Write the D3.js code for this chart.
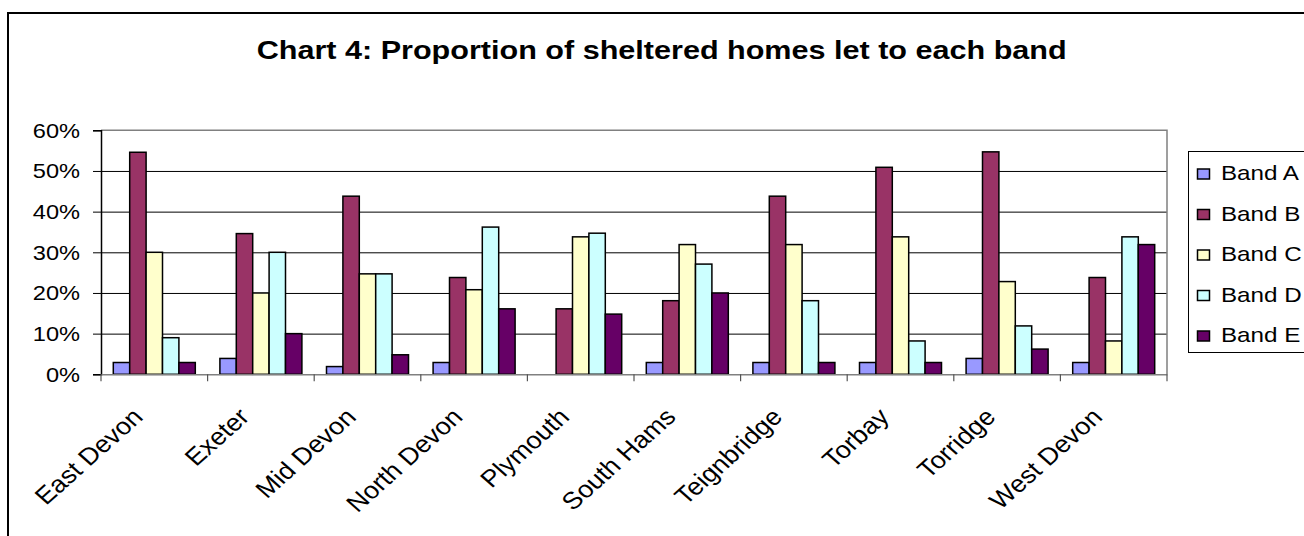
<!DOCTYPE html>
<html>
<head>
<meta charset="utf-8">
<script src="https://cdn.jsdelivr.net/npm/d3@7"></script>
<style>
  html, body { margin: 0; padding: 0; background: #fff; }
  svg { display: block; font-family: "Liberation Sans", Arial, sans-serif; }
</style>
</head>
<body>
<svg id="chart" width="1304" height="536"></svg>
<script>
const title = "Chart 4: Proportion of sheltered homes let to each band";
const categories = ["East Devon","Exeter","Mid Devon","North Devon","Plymouth","South Hams","Teignbridge","Torbay","Torridge","West Devon"];
const bands = ["Band A","Band B","Band C","Band D","Band E"];
const bandColors = ["#9999FF","#993366","#FFFFCC","#CCFFFF","#660066"];
const bandA = [2.9, 3.9, 1.9, 2.9, 0, 2.9, 2.9, 2.9, 3.9, 2.9];
const bandB = [54.6, 34.6, 43.8, 23.8, 16.1, 18.1, 43.8, 50.9, 54.7, 23.8];
const bandC = [30.0, 20.0, 24.7, 20.8, 33.8, 31.9, 31.9, 33.8, 22.8, 8.2];
const bandD = [9.0, 30.0, 24.7, 36.2, 34.7, 27.1, 18.1, 8.2, 11.9, 33.8];
const bandE = [2.9, 10.0, 4.8, 16.1, 14.8, 20.0, 2.9, 2.9, 6.2, 31.9];
const yTicks = [0, 10, 20, 30, 40, 50, 60];

const series = [bandA, bandB, bandC, bandD, bandE];
const svg = d3.select("#chart");
const SX = 1.18;   // horizontal stretch of the text in the reference
const SXL = 1.12;  // stretch for the rotated category labels

const pLeft = 101, pRight = 1167, pTop = 130.3, pBottom = 374.3;

// outer border
svg.append("rect").attr("x", 8).attr("y", 13).attr("width", 1320).attr("height", 560)
  .attr("fill", "#fff").attr("stroke", "#000").attr("stroke-width", 2);

// title
svg.append("text").attr("x", 661.7).attr("y", 58.5).attr("text-anchor", "middle")
  .attr("font-size", 26).attr("font-weight", "bold")
  .attr("textLength", 810).attr("lengthAdjust", "spacingAndGlyphs")
  .text(title);

const x0 = d3.scaleBand().domain(categories).range([pLeft, pRight]).padding(0);
const bw = x0.bandwidth();
const x1 = d3.scaleBand().domain(bands).range([bw * 0.75 / 6.5, bw - bw * 0.75 / 6.5]).padding(0);
const y = d3.scaleLinear().domain([0, 60]).range([pBottom, pTop]);
const color = d3.scaleOrdinal().domain(bands).range(bandColors);

// gridlines
const grid = svg.append("g").attr("transform", `translate(${pLeft},0)`)
  .call(d3.axisLeft(y).tickValues(yTicks.filter(d => d > 0 && d < 60)).tickSize(-(pRight - pLeft)).tickFormat(""));
grid.select(".domain").remove();
grid.selectAll("line").attr("stroke", "#000").attr("stroke-width", 1);

// plot area border top & right (gray)
svg.append("path")
  .attr("d", `M${pLeft},${y(60)}H${pRight}V${pBottom}`)
  .attr("fill", "none").attr("stroke", "#808080").attr("stroke-width", 1.5);

// bars
const data = [];
categories.forEach((c, i) => bands.forEach((b, j) => data.push({c, b, v: series[j][i]})));
svg.append("g").selectAll("rect").data(data.filter(d => d.v > 0)).join("rect")
  .attr("x", d => x0(d.c) + x1(d.b))
  .attr("width", x1.bandwidth())
  .attr("y", d => y(d.v))
  .attr("height", d => y(0) - y(d.v))
  .attr("fill", d => color(d.b))
  .attr("stroke", "#000").attr("stroke-width", 1.5);

// y axis
const ya = svg.append("g").attr("transform", `translate(${pLeft},0)`)
  .call(d3.axisLeft(y).tickValues(yTicks).tickSize(8).tickFormat(d => d + "%"));
ya.select(".domain").attr("stroke", "#000").attr("stroke-width", 1.5);
ya.selectAll("line").attr("stroke", "#000");
ya.selectAll("text").attr("x", 0).attr("dy", "0.35em")
  .attr("transform", `translate(-21,0) scale(${SX},1)`)
  .attr("font-size", 20).attr("font-family", "Liberation Sans, Arial, sans-serif").attr("fill", "#000");

// x axis
const xa = svg.append("g").attr("transform", `translate(0,${pBottom})`)
  .call(d3.axisBottom(x0).tickSize(0));
xa.select(".domain").attr("stroke", "#808080").attr("stroke-width", 1.5);
xa.selectAll("text").attr("y", 0).attr("dy", 0)
  .attr("text-anchor", "end")
  .attr("transform", `translate(-10,44) scale(${SXL},1) rotate(-45)`)
  .attr("font-size", 24).attr("font-family", "Liberation Sans, Arial, sans-serif").attr("fill", "#000");
// boundary ticks
const bounds = categories.map(c => x0(c)).concat([pRight]);
xa.append("g").selectAll("line").data(bounds).join("line")
  .attr("x1", d => d).attr("x2", d => d).attr("y1", 0).attr("y2", 7)
  .attr("stroke", "#555").attr("stroke-width", 1.2);

// legend
const lg = svg.append("g");
lg.append("rect").attr("x", 1188.5).attr("y", 151.5).attr("width", 200).attr("height", 201)
  .attr("fill", "#fff").attr("stroke", "#000").attr("stroke-width", 1);
const items = lg.selectAll("g.item").data(bands).join("g").attr("class", "item")
  .attr("transform", (d, i) => `translate(0,${180 + i * 40.5})`);
items.append("rect").attr("x", 1197.5).attr("y", -11).attr("width", 12).attr("height", 10)
  .attr("fill", d => color(d)).attr("stroke", "#000").attr("stroke-width", 1.5);
items.append("text").attr("transform", `translate(1221,0) scale(${SX},1)`)
  .attr("font-size", 20.5).text(d => d);
</script>
</body>
</html>
